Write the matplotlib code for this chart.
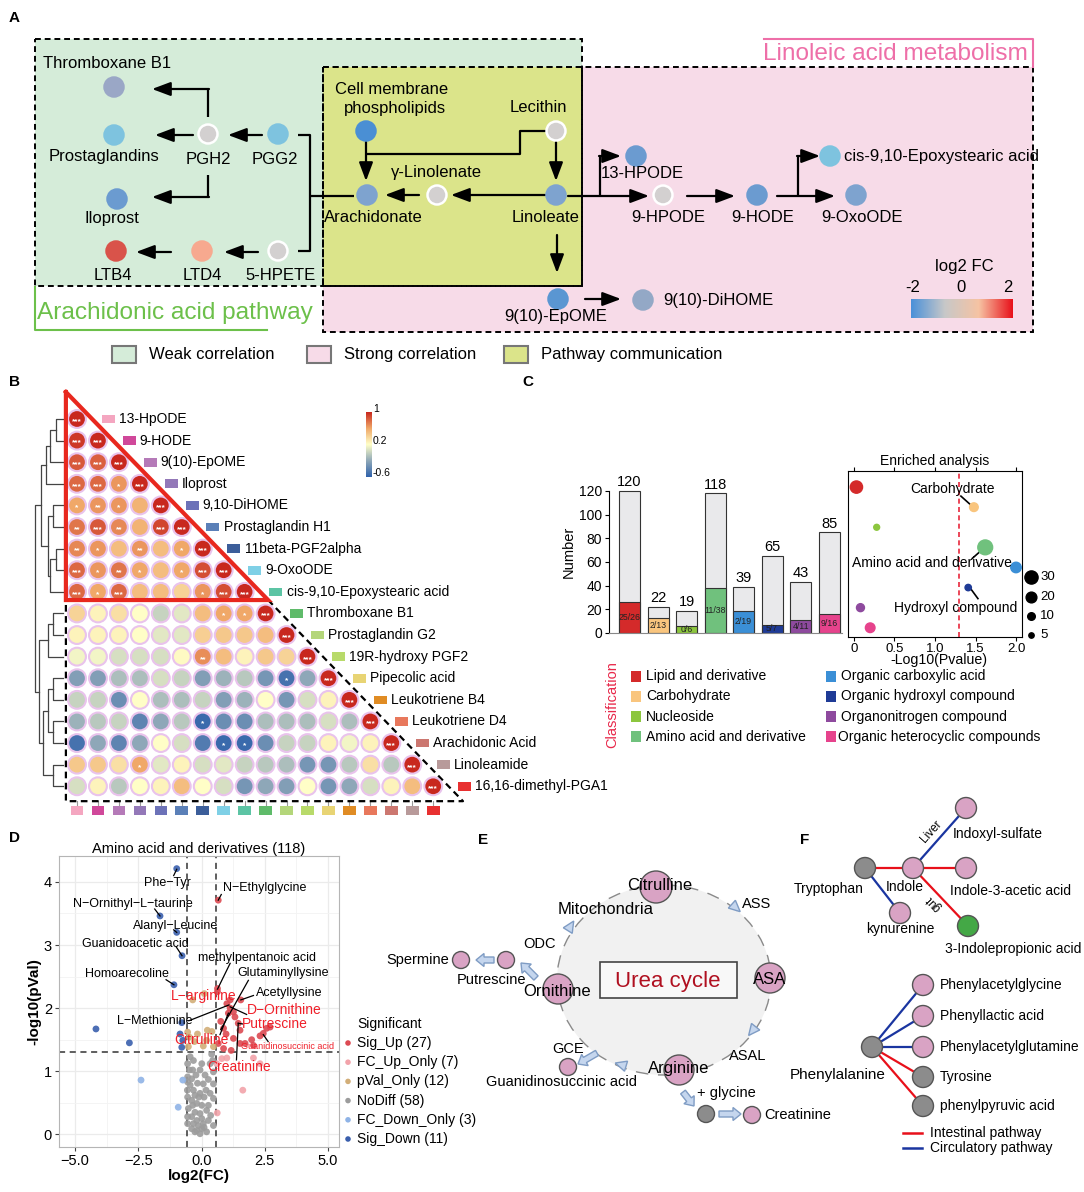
import numpy as np
import matplotlib
matplotlib.use("Agg")
import matplotlib.pyplot as plt
from matplotlib.patches import Rectangle, Circle, Ellipse, Polygon, FancyArrow
from matplotlib.colors import LinearSegmentedColormap

plt.rcParams['font.family'] = ['Liberation Sans', 'DejaVu Sans']

# ---------------- data ----------------
# B: correlation of lipid metabolites (lower triangle)
metab_names = ['13-HpODE', '9-HODE', '9(10)-EpOME', 'Iloprost', '9,10-DiHOME', 'Prostaglandin H1',
               '11beta-PGF2alpha', '9-OxoODE', 'cis-9,10-Epoxystearic acid', 'Thromboxane B1',
               'Prostaglandin G2', '19R-hydroxy PGF2', 'Pipecolic acid', 'Leukotriene B4',
               'Leukotriene D4', 'Arachidonic Acid', 'Linoleamide', '16,16-dimethyl-PGA1']
metab_colors = ['#f4a6c0', '#d0489a', '#b57ab8', '#9378b8', '#6c72b8', '#5b80b8', '#3c5e9a', '#7fd0e6',
                '#5cc4a4', '#5fbb6a', '#b4d67a', '#b8da6a', '#e8d474', '#e08c24', '#e8785c', '#cc7770',
                '#b89a9a', '#e83030']
corr_rows = [
    [1.0],
    [0.95, 1.0],
    [0.85, 0.82, 1.0],
    [0.8, 0.8, 0.65, 1.0],
    [0.6, 0.65, 0.65, 0.55, 1.0],
    [0.75, 0.85, 0.7, 0.55, 0.9, 1.0],
    [0.7, 0.65, 0.5, 0.65, 0.5, 0.6, 1.0],
    [0.8, 0.65, 0.75, 0.6, 0.5, 0.6, 0.88, 1.0],
    [0.8, 0.6, 0.8, 0.5, 0.5, 0.4, 0.65, 0.88, 1.0],
    [0.4, 0.25, 0.35, 0.2, 0.0, 0.1, 0.5, 0.6, 0.6, 1.0],
    [0.25, 0.25, 0.25, 0.2, 0.1, 0.1, 0.42, 0.45, 0.45, 0.5, 1.0],
    [0.15, 0.15, 0.05, 0.05, 0.05, 0.22, 0.68, 0.5, 0.25, 0.45, 0.4, 1.0],
    [-0.25, -0.25, -0.1, -0.1, 0.05, 0.0, -0.25, -0.15, -0.05, -0.3, -0.5, -0.2, 1.0],
    [0.0, 0.0, -0.35, 0.2, -0.1, -0.1, 0.0, -0.25, -0.15, 0.2, -0.3, 0.05, 0.25, 1.0],
    [-0.15, -0.05, 0.0, -0.4, -0.2, -0.05, -0.55, -0.35, -0.35, -0.1, -0.1, -0.1, 0.05, -0.1, 1.0],
    [-0.5, -0.2, -0.4, -0.2, 0.2, 0.05, -0.45, -0.55, -0.55, -0.35, 0.0, 0.0, 0.25, 0.15, 0.25, 1.0],
    [0.45, 0.45, 0.35, 0.6, 0.1, 0.25, 0.05, 0.1, 0.0, -0.05, -0.1, -0.3, -0.3, -0.05, 0.35, -0.05, 1.0],
    [0.05, 0.25, -0.05, 0.2, 0.25, 0.5, 0.2, 0.05, -0.3, -0.2, -0.25, 0.2, -0.3, -0.2, 0.05, 0.25, 0.5, 1.0],
]
star_rows = [
    '***', '*** ***', '*** *** ***', '*** *** * ***', '* ** * . ***', '** *** ** . *** ***',
    '** * . ** . * ***', '*** * ** * . * *** ***', '*** * *** . . . * *** ***',
    '. . . . . . . * * ***', '. . . . . . . . . . ***', '. . . . . . ** . . . . ***',
    '. . . . . . . . . . * . ***', '. . . . . . . . . . . . . ***',
    '. . . . . . * . . . . . . . ***', '. . . . . . . * * . . . . . . ***',
    '. . . * . . . . . . . . . . . . ***', '. . . . . . . . . . . . . . . . . ***',
]
# dendrogram merges: (cluster a, cluster b, relative height)
dendro_merges = [(0, 1, 0.25), (18, 2, 0.45), (4, 5, 0.35), (6, 7, 0.25), (21, 8, 0.45),
                 (20, 22, 0.55), (19, 3, 0.6), (24, 23, 0.8), (9, 10, 0.35), (26, 11, 0.55),
                 (12, 13, 0.35), (14, 15, 0.35), (28, 29, 0.55), (16, 17, 0.35), (30, 31, 0.7),
                 (27, 32, 0.85), (25, 33, 1.0)]

# C: classification of metabolites
classes = ['Lipid and derivative', 'Carbohydrate', 'Nucleoside', 'Amino acid and derivative',
           'Organic carboxylic acid', 'Organic hydroxyl compound', 'Organonitrogen compound',
           'Organic heterocyclic compounds']
class_colors = ['#d42a2a', '#f9c57e', '#8cc63e', '#70c17d', '#3b8fd6', '#1f3b96', '#8e4a9e', '#e6438c']
total_n = [120, 22, 19, 118, 39, 65, 43, 85]
class_n = [26, 13, 6, 38, 19, 7, 11, 16]
sig_n = [25, 2, 0, 11, 2, 5, 4, 9]
enrich_logp = [0.03, 1.48, 0.28, 1.62, 2.0, 1.41, 0.08, 0.2]
size_legend = [30, 20, 10, 5]

# D: volcano, amino acids
sig_up_x = [0.66, 0.63, 1.55, 1.00, 1.13, 1.26, 1.06, 1.32, 0.76, 1.45, 0.87, 1.52, 0.97, 2.57,
            2.44, 2.31, 1.98, 1.72, 0.87, 1.17, 0.66, 1.52, 2.71, 1.26, 2.05, 0.63, 1.13]
sig_up_y = [3.71, 2.31, 2.13, 2.07, 2.00, 1.94, 1.92, 1.86, 1.79, 1.76, 1.68, 1.65, 1.59, 1.68,
            1.60, 1.56, 1.50, 1.44, 1.36, 1.33, 1.44, 1.44, 1.70, 1.52, 1.41, 2.26, 2.13]
fc_up_x = [0.80, 1.00, 2.05, 2.31, 1.63, 0.60, 0.62]
fc_up_y = [1.20, 1.21, 1.21, 1.12, 0.70, 1.12, 0.34]
pval_x = [-0.35, 0.11, -0.55, -0.48, -0.28, 0.07, 0.23, 0.41, 0.47, -0.16, -0.52, 0.20]
pval_y = [2.13, 2.23, 1.62, 1.54, 1.47, 1.40, 1.65, 1.63, 1.39, 1.59, 1.39, 1.49]
nodiff_x = [-0.45, -0.32, 0.40, 0.44, -0.55, -0.35, -0.06, 0.47, -0.39, -0.55, -0.16, 0.07, 0.27,
            -0.32, -0.06, -0.55, 0.10, 0.34, -0.39, -0.19, 0.01, 0.27, -0.52, -0.26, -0.06, 0.20,
            0.36, -0.39, -0.19, 0.01, -0.32, -0.13, 0.07, -0.39, -0.19, 0.01, -0.26, -0.06, 0.20,
            -0.55, 0.47, -0.48, 0.14, -0.22, -0.56, 0.47, 0.27, 0.10, -0.35, -0.55, 0.34, -0.11,
            -0.45, 0.01, 0.18, -0.26, 0.47, -0.55]
nodiff_y = [1.23, 1.17, 1.27, 1.17, 1.12, 1.02, 1.02, 0.99, 0.88, 0.83, 0.81, 0.80, 0.87, 0.70,
            0.65, 0.59, 0.59, 0.65, 0.54, 0.49, 0.46, 0.46, 0.41, 0.35, 0.33, 0.38, 0.30, 0.28,
            0.22, 0.25, 0.17, 0.14, 0.17, 0.09, 0.06, 0.09, 0.04, 0.01, 0.04, 0.17, 0.14, 1.02,
            0.94, 0.94, 0.70, 0.80, 0.22, 0.11, 0.46, 0.28, 1.12, 0.59, 0.78, 1.12, 0.70, 0.62,
            0.57, 0.91]
fc_down_x = [-2.39, -0.74, -0.92]
fc_down_y = [0.86, 0.86, 0.43]
sig_down_x = [-0.98, -1.64, -0.98, -0.77, -1.09, -4.17, -2.85, -0.78, -0.85, -0.74, -0.78]
sig_down_y = [4.21, 3.46, 3.20, 2.83, 2.37, 1.67, 1.45, 1.77, 1.59, 1.49, 1.38]
vol_groups = ['Sig_Up', 'FC_Up_Only', 'pVal_Only', 'NoDiff', 'FC_Down_Only', 'Sig_Down']
vol_colors = ['#dc4a52', '#f2a3aa', '#d2ae78', '#9c9c9c', '#8fb3e6', '#3a5fad']

# ---------------- figure ----------------
W, H = 1084, 1192
fig = plt.figure(figsize=(W / 100, H / 100), dpi=100)
bg = fig.add_axes([0, 0, 1, 1])
bg.set_xlim(0, W)
bg.set_ylim(H, 0)
bg.axis('off')


def px_axes(x0, y0, x1, y1):
    return fig.add_axes([x0 / W, 1 - y1 / H, (x1 - x0) / W, (y1 - y0) / H])


def txt(x, y, s, size=12, ha='center', color='k', **kw):
    bg.text(x, y, s, fontsize=size, ha=ha, va='center', color=color, **kw)


def arr(x0, y0, x1, y1):
    bg.annotate('', xy=(x1, y1), xytext=(x0, y0),
                arrowprops=dict(arrowstyle='-|>,head_length=0.8,head_width=0.3', color='k',
                                lw=1.6, shrinkA=0, shrinkB=0, mutation_scale=14), zorder=4)


def path(xs, ys):
    bg.plot(xs, ys, color='k', lw=1.6, zorder=4, solid_capstyle='butt')


for lab, lx, ly in [('A', 14, 18), ('B', 14, 382), ('C', 528, 382), ('D', 14, 838),
                    ('E', 483, 840), ('F', 805, 840)]:
    txt(lx, ly, lab, size=11, weight='bold')

# ---------------- A ----------------
bg.add_patch(Rectangle((323, 67), 710, 265, fc='#f7dbe8', ec='none', zorder=1))
bg.add_patch(Rectangle((35, 39), 547, 247, fc='#d5ecd9', ec='none', zorder=1))
bg.add_patch(Rectangle((323, 67), 259, 219, fc='#dbe48a', ec='none', zorder=1.5))
for (x0, y0, w, h) in [(323, 67, 710, 265), (35, 39, 547, 247), (323, 67, 259, 219)]:
    bg.add_patch(Rectangle((x0, y0), w, h, fc='none', ec='k', lw=1.4, ls=(0, (3, 2)), zorder=2))

bg.plot([35, 35, 267], [287, 330, 330], color='#6cc04a', lw=1.5)
txt(37, 313, 'Arachidonic acid pathway', size=17.6, ha='left', color='#6cc04a')
bg.plot([764, 1033, 1033], [39, 39, 67], color='#ee6fa8', lw=1.5)
txt(1028, 54, 'Linoleic acid metabolism', size=17.6, ha='right', color='#ee6fa8')

grey_node = '#d3d0d0'
nodes_A = [
    (114, 87, '#9aa7c6'), (114, 135, '#7ec3df'), (208, 134, grey_node), (278, 134, '#7ec3df'),
    (117, 199, '#6b9bd0'), (116, 251, '#d9534a'), (202, 251, '#f7a98f'), (278, 251, grey_node),
    (366, 131, '#4a8fd4'), (556, 131, grey_node), (367, 195, '#7ea3cf'), (437, 195, grey_node),
    (556, 195, '#7ea3cf'), (636, 156, '#6b9bd0'), (663, 195, grey_node), (757, 195, '#6b9bd0'),
    (856, 195, '#7ea3cf'), (830, 156, '#7ec3df'), (558, 299, '#5a96d2'), (643, 300, '#93a8c6'),
]
for (x, y, c) in nodes_A:
    bg.add_patch(Circle((x, y), 9.5, fc=c, ec='white' if c == grey_node else c, lw=1.8, zorder=5))

labels_A = [
    ('Thromboxane B1', 107, 64, 'center'), ('Prostaglandins', 104, 157, 'center'),
    ('PGH2', 208, 159, 'center'), ('PGG2', 275, 159, 'center'), ('Iloprost', 112, 219, 'center'),
    ('LTB4', 113, 275, 'center'), ('LTD4', 202, 275, 'center'), ('5-HPETE', 281, 275, 'center'),
    ('Cell membrane', 392, 89, 'center'), ('phospholipids', 395, 108, 'center'),
    ('Lecithin', 538, 108, 'center'), ('Arachidonate', 373, 217, 'center'),
    ('γ-Linolenate', 436, 173, 'center'), ('Linoleate', 546, 217, 'center'),
    ('13-HPODE', 642, 174, 'center'), ('9-HPODE', 668, 218, 'center'),
    ('9-HODE', 763, 218, 'center'), ('9-OxoODE', 862, 218, 'center'),
    ('cis-9,10-Epoxystearic acid', 844, 156, 'left'), ('9(10)-EpOME', 556, 316, 'center'),
    ('9(10)-DiHOME', 663, 300, 'left'),
]
for (s, x, y, ha) in labels_A:
    txt(x, y, s, size=12, ha=ha, zorder=6)

# arrows of pathway
path([208, 208], [117, 89]); arr(209, 89, 152, 89)
arr(193, 135, 155, 135)
arr(262, 135, 228, 135)
path([208, 208], [175, 197]); arr(209, 197, 152, 197)
arr(258, 252, 224, 252)
arr(171, 252, 136, 252)
path([298, 310, 310, 298], [135, 135, 251, 251]); path([310, 354], [196, 196])
arr(366, 142, 366, 181)
path([546, 520, 520, 366], [131, 131, 154, 154])
arr(556, 142, 556, 181)
arr(419, 195, 385, 195)
arr(545, 195, 451, 195)
arr(557, 235, 557, 273)
arr(568, 196, 649, 196)
path([600, 600], [196, 156]); arr(599, 156, 621, 156)
arr(687, 196, 735, 196)
arr(777, 196, 835, 196)
path([798, 798], [196, 156]); arr(797, 156, 820, 156)
arr(585, 299, 621, 299)

# log2 FC colorbar
fc_cmap = LinearSegmentedColormap.from_list('fc', ['#4a90d9', '#c8c8c8', '#f6c3a3', '#e8101a'])
cb_a = px_axes(911, 299, 1013, 318)
cb_a.imshow(np.linspace(0, 1, 256)[None, :], aspect='auto', cmap=fc_cmap)
cb_a.set_xticks([]); cb_a.set_yticks([])
for sp in cb_a.spines.values():
    sp.set_visible(False)
txt(964, 267, 'log2 FC', size=12)
for s, x in [('-2', 913), ('0', 961), ('2', 1008)]:
    txt(x, 287, s, size=12)

# legend row
for (x, c, s) in [(112, '#d5ecd9', 'Weak correlation'), (307, '#f7dbe8', 'Strong correlation'),
                  (504, '#dbe48a', 'Pathway communication')]:
    bg.add_patch(Rectangle((x, 346), 24, 17, fc=c, ec='#777777', lw=1.5))
    txt(x + 37, 354.5, s, size=12, ha='left')

# ---------------- B ----------------
axb = px_axes(30, 385, 560, 815)
axb.set_xlim(-2.243, 23.05)
axb.set_ylim(18.33, -1.574)
axb.axis('off')
corr_cmap = LinearSegmentedColormap.from_list(
    'corr', [(0, '#2f62ab'), (0.25, '#8fa8b8'), (0.5, '#ffffc8'), (0.75, '#f0a868'), (1, '#c8281e')])
cx, cy, cv, cs = [], [], [], []
for r, row in enumerate(corr_rows):
    stars = star_rows[r].split(' ')
    for c, v in enumerate(row):
        cx.append(c); cy.append(r); cv.append(v); cs.append(stars[c].replace('.', ''))
axb.scatter(cx, cy, c=cv, cmap=corr_cmap, vmin=-0.6, vmax=1, s=165, edgecolors='#e9c3ec',
            linewidths=1.5, zorder=3)
for x, y, s in zip(cx, cy, cs):
    if s:
        axb.text(x, y + 0.12, s, color='white', fontsize=6, ha='center', va='center', zorder=4,
                 weight='bold')
for i, (name, col) in enumerate(zip(metab_names, metab_colors)):
    axb.add_patch(Rectangle((i + 1.18, i - 0.2), 0.62, 0.4, fc=col, ec='none', clip_on=False))
    axb.text(i + 2.0, i, name, fontsize=10, ha='left', va='center')
    axb.add_patch(Rectangle((i - 0.3, 17.9), 0.6, 0.42, fc=col, ec='none', clip_on=False))
    axb.plot([i, i], [17.7, 17.85], color='#999999', lw=0.8)

# triangles
axb.plot([-0.53, -0.53, 9.12, -0.53], [-1.25, 8.38, 8.38, -1.25], color='#e8281e', lw=3,
         zorder=5, solid_joinstyle='miter')
axb.plot([9.12, 18.42, -0.53, -0.53], [8.38, 17.69, 17.69, 8.38], color='k', lw=1.6,
         ls=(0, (3, 2)), zorder=2)

# dendrogram
leaf_x, root_x = -0.67, -2.0
pos = {i: (float(i), 0.0) for i in range(len(metab_names))}
for k, (a, b, h) in enumerate(dendro_merges):
    ya, ha_ = pos[a]
    yb, hb = pos[b]
    xa = leaf_x - ha_ * (leaf_x - root_x)
    xb = leaf_x - hb * (leaf_x - root_x)
    xh = leaf_x - h * (leaf_x - root_x)
    axb.plot([xa, xh, xh, xb], [ya, ya, yb, yb], color='#444444', lw=0.9)
    pos[len(metab_names) + k] = ((ya + yb) / 2, h)

# correlation colorbar
cb_b = px_axes(366, 412, 372, 477)
cb_b.imshow(np.linspace(1, 0, 256)[:, None], aspect='auto', cmap=corr_cmap)
cb_b.set_xticks([]); cb_b.set_yticks([])
for sp in cb_b.spines.values():
    sp.set_visible(False)
for s, y in [('1', 409), ('0.2', 441), ('-0.6', 473)]:
    txt(373, y, s, size=7.5, ha='left')

# ---------------- C ----------------
axc = px_axes(609, 470, 842, 633)
bar_x = np.arange(len(classes))
axc.bar(bar_x, total_n, width=0.74, color='#e9e9eb', edgecolor='#333333', linewidth=0.8)
axc.bar(bar_x, class_n, width=0.74, color=class_colors, edgecolor='#333333', linewidth=0.8)
for x, t, n, s in zip(bar_x, total_n, class_n, sig_n):
    axc.text(x, t + 1.5, str(t), ha='center', va='bottom', fontsize=10.5)
    axc.text(x, n / 2, f'{s}/{n}', ha='center', va='center', fontsize=6.3, color='#222222')
axc.set_xlim(-0.72, 7.45)
axc.set_ylim(0, 137.7)
axc.set_yticks([0, 20, 40, 60, 80, 100, 120])
axc.tick_params(axis='y', labelsize=10, length=3, pad=2)
axc.set_xticks([])
axc.spines['left'].set_bounds(0, 120)
axc.spines['top'].set_visible(False)
axc.spines['right'].set_visible(False)
axc.spines['bottom'].set_color('#888888')
axc.set_facecolor('none')
axc.set_ylabel('Number', fontsize=10.5, labelpad=2)

axs = px_axes(848, 471, 1022, 637)
axs.scatter(enrich_logp, np.arange(len(classes)), s=[3 * n for n in class_n], c=class_colors,
            zorder=3, clip_on=False)
axs.axvline(1.301, color='#e8283c', ls=(0, (3, 2)), lw=1.2)
axs.set_xlim(-0.074, 2.074)
axs.set_ylim(7.46, -0.8)
axs.set_yticks([])
axs.set_xticks([0, 0.5, 1.0, 1.5, 2.0])
axs.set_xticklabels(['0', '0.5', '1.0', '1.5', '2.0'])
axs.tick_params(axis='x', labelsize=9.5, length=3, pad=1.5, top=True)
axs.set_title('Enriched analysis', fontsize=10, pad=4)
txt(939, 660, '-Log10(Pvalue)', size=10.2)
axs.text(1.21, 0.1, 'Carbohydrate', fontsize=10, ha='center', va='center')
axs.plot([1.32, 1.45], [0.45, 0.92], color='k', lw=1.2)
axs.text(0.96, 3.78, 'Amino acid and derivative', fontsize=10, ha='center', va='center')
axs.plot([1.46, 1.6], [3.55, 3.05], color='k', lw=1.2)
axs.text(1.25, 6.0, 'Hydroxyl compound', fontsize=10, ha='center', va='center')
axs.plot([1.43, 1.53], [5.0, 5.55], color='k', lw=1.2)
for n, y in zip(size_legend, [577, 597, 616, 635]):
    bg.scatter([1031], [y], s=3 * n, color='k')
    txt(1040, y, str(n), size=9.5, ha='left')

txt(612, 705, 'Classification', size=10.5, color='#e8284a', rotation=90)
for k, (name, col) in enumerate(zip(classes, class_colors)):
    colx = 631 if k < 4 else 826
    y = 676 + 20.3 * (k % 4)
    bg.add_patch(Rectangle((colx, y - 5.5), 10, 11, fc=col, ec='none'))
    txt(colx + 15 if k < 7 else colx + 12, y, name, size=10, ha='left')

# ---------------- D ----------------
axd = px_axes(59, 856, 339, 1147)
groups = [(sig_up_x, sig_up_y), (fc_up_x, fc_up_y), (pval_x, pval_y), (nodiff_x, nodiff_y),
          (fc_down_x, fc_down_y), (sig_down_x, sig_down_y)]
for (gx, gy), col in zip(groups, vol_colors):
    axd.scatter(gx, gy, s=24, color=col, alpha=0.9, edgecolors='none', zorder=3)
axd.set_xlim(-5.63, 5.43)
axd.set_ylim(-0.2, 4.41)
axd.set_xticks([-5, -2.5, 0, 2.5, 5])
axd.set_xticklabels(['−5.0', '−2.5', '0.0', '2.5', '5.0'])
axd.set_yticks([0, 1, 2, 3, 4])
axd.set_xticks([-3.75, -1.25, 1.25, 3.75], minor=True)
axd.set_yticks([0.5, 1.5, 2.5, 3.5], minor=True)
axd.grid(which='major', color='#ebebeb', lw=0.9, zorder=0)
axd.grid(which='minor', color='#f3f3f3', lw=0.6, zorder=0)
axd.set_axisbelow(True)
axd.tick_params(which='major', labelsize=10.5, length=3, color='#444444', pad=2)
axd.tick_params(which='minor', length=0)
for sp in axd.spines.values():
    sp.set_color('#b5b5b5')
axd.axvline(-0.585, color='#333333', ls=(0, (4, 3)), lw=1.1, zorder=2)
axd.axvline(0.585, color='#333333', ls=(0, (4, 3)), lw=1.1, zorder=2)
axd.axhline(1.301, color='#333333', ls=(0, (4, 3)), lw=1.1, zorder=2)
axd.set_xlabel('log2(FC)', fontsize=11, weight='bold', labelpad=1)
axd.set_ylabel('-log10(pVal)', fontsize=11, weight='bold', labelpad=2)
axd.set_title('Amino acid and derivatives (118)', fontsize=10.5, pad=2)

vol_labels = [
    ('Phe−Tyr', -1.36, 3.98, -1.1, 4.1, -0.98, 4.2, 'k', 9),
    ('N−Ornithyl−L−taurine', -2.70, 3.65, -1.85, 3.57, -1.64, 3.46, 'k', 9),
    ('Alanyl−Leucine', -1.01, 3.30, -1.1, 3.24, -0.98, 3.2, 'k', 9),
    ('Guanidoacetic acid', -2.63, 3.01, -1.0, 2.97, -0.77, 2.83, 'k', 9),
    ('Homoarecoline', -2.96, 2.54, -1.4, 2.45, -1.09, 2.37, 'k', 9),
    ('L−Methionine', -1.84, 1.80, -0.5, 1.8, 1.08, 2.05, 'k', 9),
    ('N−Ethylglycine', 2.51, 3.90, 0.78, 3.8, 0.66, 3.71, 'k', 9),
    ('methylpentanoic acid', 2.19, 2.79, 1.13, 2.71, 0.63, 2.3, 'k', 9),
    ('Glutaminyllysine', 3.23, 2.55, 1.85, 2.44, 0.76, 1.66, 'k', 9),
    ('Acetyllysine', 3.47, 2.24, 2.05, 2.2, 1.55, 2.13, 'k', 9),
    ('L−arginine', 0.10, 2.19, None, None, None, None, '#f0202a', 10),
    ('D−Ornithine', 3.26, 1.97, 1.78, 1.9, 1.13, 2.02, '#f0202a', 10),
    ('Putrescine', 2.90, 1.75, 1.62, 1.75, 1.45, 1.76, '#f0202a', 10),
    ('Citrulline', 0.00, 1.49, 0.73, 1.58, 1.06, 1.92, '#f0202a', 10),
    ('Guanidinosuccinic acid', 3.39, 1.40, 2.63, 1.47, 2.44, 1.58, '#f0202a', 6.5),
    ('Creatinine', 1.50, 1.06, 1.38, 1.18, 1.45, 1.76, '#f0202a', 10),
]
for (s, tx, ty, lx0, ly0, lx1, ly1, col, fs) in vol_labels:
    if lx0 is not None:
        axd.plot([lx0, lx1], [ly0, ly1], color='k', lw=0.9, zorder=4)
    axd.text(tx, ty, s, color=col, fontsize=fs, ha='center', va='center', zorder=5)

txt(357, 1024, 'Significant', size=10, ha='left')
for k, (g, col, gx) in enumerate(zip(vol_groups, vol_colors, [sig_up_x, fc_up_x, pval_x, nodiff_x,
                                                               fc_down_x, sig_down_x])):
    y = 1043 + 19.2 * k
    bg.scatter([348], [y], s=16, color=col, edgecolors='none')
    txt(357, y, f'{g} ({len(gx)})', size=10, ha='left')

# ---------------- E ----------------
bg.add_patch(Ellipse((664, 980), 214, 190, fc='#f1f1f1', ec='#8a8a8a', lw=1, ls=(0, (9, 7)),
                     zorder=1))
bg.add_patch(Rectangle((600, 962), 137, 36, fc='#f8f8f8', ec='#444444', lw=1.2, zorder=2))
txt(668, 981, 'Urea cycle', size=16, color='#b01020', zorder=3)
pink = '#d9a3c4'
for (x, y, r, c) in [(656, 887, 16, pink), (558, 989, 15, pink), (770, 978, 15, pink),
                     (679, 1070, 15, pink), (506, 960, 8.5, pink), (461, 960, 8.5, pink),
                     (568, 1067, 8.5, pink), (706, 1114, 8.5, '#8c8c8c'), (752, 1115, 8.5, pink)]:
    bg.add_patch(Circle((x, y), r, fc=c, ec='#555555', lw=1, zorder=4))


def fat(x0, y0, x1, y1):
    bg.add_patch(FancyArrow(x0, y0, x1 - x0, y1 - y0, width=6, head_width=13, head_length=8,
                            length_includes_head=True, fc='#c5d6ee', ec='#7f9cc4', lw=1, zorder=5))


def tri(x, y, dx, dy, size=7):
    d = np.array([dx, dy]) / np.hypot(dx, dy)
    n = np.array([-d[1], d[0]])
    p = np.array([x, y])
    pts = [p + d * size, p - d * size * 0.6 + n * size * 0.75, p - d * size * 0.6 - n * size * 0.75]
    bg.add_patch(Polygon(pts, fc='#c5d6ee', ec='#7f9cc4', lw=1, zorder=5))


fat(494, 960, 476, 960)
fat(536, 978, 521, 963)
fat(597, 1053, 578, 1064)
fat(683, 1092, 694, 1106)
fat(719, 1114, 741, 1114)
tri(570, 927, 1, -1.6)
tri(735, 907, 1, 0.9)
tri(753, 1030, -0.8, 1)
tri(622, 1065, -1, -0.3)
for (s, x, y, fs, ha) in [('Citrulline', 660, 886, 12, 'center'), ('Mitochondria', 606, 910, 12, 'center'),
                          ('ASS', 757, 904, 10.5, 'center'), ('ASA', 770, 979, 12, 'center'),
                          ('ASAL', 748, 1056, 10.5, 'center'), ('Arginine', 679, 1069, 12, 'center'),
                          ('+ glycine', 726, 1093, 10.5, 'center'), ('Creatinine', 764, 1115, 10.5, 'left'),
                          ('GCE', 568, 1049, 10.5, 'center'), ('Guanidinosuccinic acid', 561, 1082, 10.5, 'center'),
                          ('ODC', 540, 944, 10.5, 'center'), ('Putrescine', 492, 980, 10.5, 'center'),
                          ('Ornithine', 557, 991, 12, 'center'), ('Spermine', 449, 960, 10.5, 'right')]:
    txt(x, y, s, size=fs, ha=ha, zorder=6)

# ---------------- F ----------------
red, blue = '#e8101a', '#1a35a0'
f_nodes = {'Tryptophan': (865, 868, '#8c8c8c'), 'Indole': (913, 868, pink),
           'Indoxyl-sulfate': (966, 808, pink), 'Indole-3-acetic acid': (966, 868, pink),
           '3-Indolepropionic acid': (968, 926, '#44a846'), 'kynurenine': (900, 913, pink),
           'Phenylalanine': (872, 1047, '#8c8c8c'), 'Phenylacetylglycine': (923, 985, pink),
           'Phenyllactic acid': (923, 1016, pink), 'Phenylacetylglutamine': (923, 1047, pink),
           'Tyrosine': (923, 1077, '#8c8c8c'), 'phenylpyruvic acid': (923, 1106, '#8c8c8c')}
f_edges = [('Tryptophan', 'Indole', red), ('Tryptophan', 'kynurenine', blue),
           ('Indole', 'Indoxyl-sulfate', blue), ('Indole', 'Indole-3-acetic acid', red),
           ('Indole', '3-Indolepropionic acid', red), ('Phenylalanine', 'Phenylacetylglycine', blue),
           ('Phenylalanine', 'Phenyllactic acid', blue), ('Phenylalanine', 'Phenylacetylglutamine', blue),
           ('Phenylalanine', 'Tyrosine', red), ('Phenylalanine', 'phenylpyruvic acid', red)]
for a, b, col in f_edges:
    bg.plot([f_nodes[a][0], f_nodes[b][0]], [f_nodes[a][1], f_nodes[b][1]], color=col, lw=1.6,
            zorder=3)
for name, (x, y, c) in f_nodes.items():
    bg.add_patch(Circle((x, y), 10.5, fc=c, ec='#555555', lw=1, zorder=4))
for (s, x, y, fs, ha) in [('Tryptophan', 829, 889, 10, 'center'), ('Indole', 905, 887, 10, 'center'),
                          ('Indoxyl-sulfate', 953, 834, 10, 'left'),
                          ('Indole-3-acetic acid', 1010, 891, 10, 'center'),
                          ('3-Indolepropionic acid', 1013, 949, 10, 'center'),
                          ('kynurenine', 900, 929, 10, 'center'), ('Phenylalanine', 838, 1075, 11, 'center'),
                          ('Phenylacetylglycine', 940, 985, 10, 'left'),
                          ('Phenyllactic acid', 940, 1016, 10, 'left'),
                          ('Phenylacetylglutamine', 940, 1047, 10, 'left'),
                          ('Tyrosine', 940, 1077, 10, 'left'), ('phenylpyruvic acid', 940, 1106, 10, 'left')]:
    txt(x, y, s, size=fs, ha=ha, zorder=6)
txt(931, 832, 'Liver', size=8.5, rotation=48, zorder=6)
txt(934, 903, 'gut', size=8.5, rotation=133, zorder=6)
bg.plot([903, 922], [1133, 1133], color=red, lw=1.8)
bg.plot([903, 922], [1148, 1148], color=blue, lw=1.8)
txt(930, 1133, 'Intestinal pathway', size=10, ha='left')
txt(930, 1148, 'Circulatory pathway', size=10, ha='left')

fig.savefig('out.png', dpi=100)
